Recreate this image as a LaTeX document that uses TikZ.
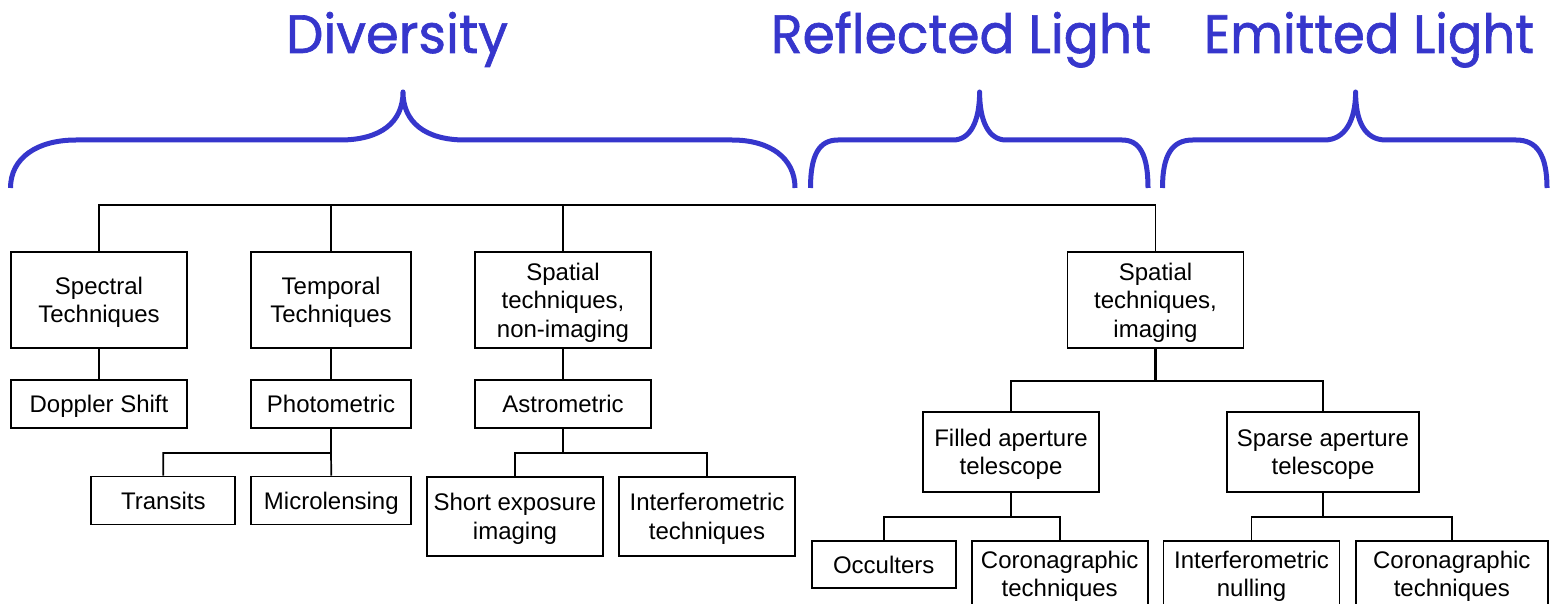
\documentclass[tikz,border=0pt]{standalone}
\usepackage{fontspec}
\setmainfont{Liberation Sans}
\newfontfamily\headfont[FakeBold=1.2]{Poppins}
\usepackage{graphicx}
\definecolor{braceblue}{RGB}{54,54,204}

\begin{document}
\begin{tikzpicture}[x=1pt, y=-1pt,
  box/.style={draw=black, line width=1.7pt, align=center, inner sep=0pt,
              text depth=0pt, font=\fontsize{24}{28.5}\selectfont},
  oneline/.style={text height=17pt},
  link/.style={line width=1.7pt},
  stem/.style={line width=2.7pt},
  brace/.style={draw=braceblue, line width=5pt, line join=round},
  head/.style={text=braceblue, inner sep=0pt, anchor=base}]

\useasboundingbox (0,0) rectangle (1551,604);
\clip (0,0) rectangle (1551,604);

% headings
\node[head] (div) at (397,53)
  {\resizebox{222pt}{\height}{\headfont\fontsize{54}{54}\selectfont Diversity}};
\node[head] (refl) at (961,53)
  {\resizebox{380pt}{\height}{\headfont\fontsize{54}{54}\selectfont Reflected Light}};
\node[head] (emit) at (1369,53)
  {\resizebox{330pt}{\height}{\headfont\fontsize{54}{54}\selectfont Emitted Light}};

% braces
\draw[brace] (10.5,188) .. controls (10.5,158) and (37,140) .. (76,140)
  -- (340,140) .. controls (381,140) and (403,122) .. (403,92)
  .. controls (403,122) and (425,140) .. (465,140)
  -- (732,140) .. controls (770,140) and (795,158) .. (795,188);
\draw[brace] (810.5,188) .. controls (810.5,155) and (819,140) .. (838,140)
  -- (953,140) .. controls (970,140) and (979.6,122) .. (979.6,92)
  .. controls (979.6,122) and (989,140) .. (1006,140)
  -- (1122,140) .. controls (1140,140) and (1148,155) .. (1148,188);
\draw[brace] (1162.5,188) .. controls (1162.5,155) and (1172,140) .. (1192.7,140)
  -- (1324.4,140) .. controls (1344,140) and (1355.6,122) .. (1355.6,92)
  .. controls (1355.6,122) and (1365,140) .. (1386,140)
  -- (1516,140) .. controls (1537,140) and (1547,155) .. (1547,188);

% first level
\node[box, minimum width=176pt, minimum height=96pt] (spec) at (99,300) {Spectral\\Techniques};
\node[box, minimum width=160pt, minimum height=96pt] (temp) at (331,300) {Temporal\\Techniques};
\node[box, minimum width=176pt, minimum height=96pt] (nonimg) at (563,300) {Spatial\\techniques,\\non-imaging};
\node[box, minimum width=176pt, minimum height=96pt] (imag) at (1155.5,300) {Spatial\\techniques,\\imaging};

% second level
\node[box, oneline, minimum width=176pt, minimum height=48pt] (dopp) at (99,404) {Doppler Shift};
\node[box, oneline, minimum width=160pt, minimum height=48pt] (photo) at (331,404) {Photometric};
\node[box, oneline, minimum width=176pt, minimum height=48pt] (astro) at (563,404) {Astrometric};
\node[box, minimum width=176pt, minimum height=80pt] (filled) at (1011,452) {Filled aperture\\telescope};
\node[box, minimum width=192pt, minimum height=80pt] (sparse) at (1323,452) {Sparse aperture\\telescope};

% third level
\node[box, oneline, minimum width=144pt, minimum height=48pt] (trans) at (163.3,500.5) {Transits};
\node[box, oneline, minimum width=160pt, minimum height=48pt] (micro) at (331.3,500.5) {Microlensing};
\node[box, minimum width=176pt, minimum height=79pt] (short) at (515,516.5) {Short exposure\\imaging};
\node[box, minimum width=176pt, minimum height=79pt] (interf) at (707,516.5) {Interferometric\\techniques};
\node[box, oneline, minimum width=144pt, minimum height=47pt] (occ) at (883.7,564.5) {Occulters};
\node[box, minimum width=176pt, minimum height=66pt] (coroA) at (1059.7,574) {Coronagraphic\\techniques};
\node[box, minimum width=176pt, minimum height=66pt] (null) at (1251.5,574) {Interferometric\\nulling};
\node[box, minimum width=192pt, minimum height=66pt] (coroB) at (1451.8,574) {Coronagraphic\\techniques};

% connectors
\coordinate (bar) at (0,205);
\coordinate (pb) at (0,453);
\coordinate (ib) at (0,381);
\coordinate (fb) at (0,517);

\draw[link] (spec.north) -- (spec.north |- bar) -| (imag.north);
\draw[link] (temp.north) -- (temp.north |- bar);
\draw[link] (nonimg.north) -- (nonimg.north |- bar);

\draw[link] (spec.south) -- (dopp.north);
\draw[link] (temp.south) -- (photo.north);
\draw[link] (nonimg.south) -- (astro.north);

\draw[stem] (photo.south) -- (photo.south |- pb);
\draw[link] (trans.north) |- (photo.south |- pb) -- (micro.north);

\draw[stem] (astro.south) -- (astro.south |- pb);
\draw[link] (short.north) |- (astro.south |- pb) -| (interf.north);

\draw[stem] (imag.south) -- (imag.south |- ib);
\draw[link] (filled.north) |- (imag.south |- ib) -| (sparse.north);

\draw[stem] (filled.south) -- (filled.south |- fb);
\draw[link] (occ.north) |- (filled.south |- fb) -| (coroA.north);

\draw[stem] (sparse.south) -- (sparse.south |- fb);
\draw[link] (null.north) |- (sparse.south |- fb) -| (coroB.north);
\end{tikzpicture}
\end{document}
